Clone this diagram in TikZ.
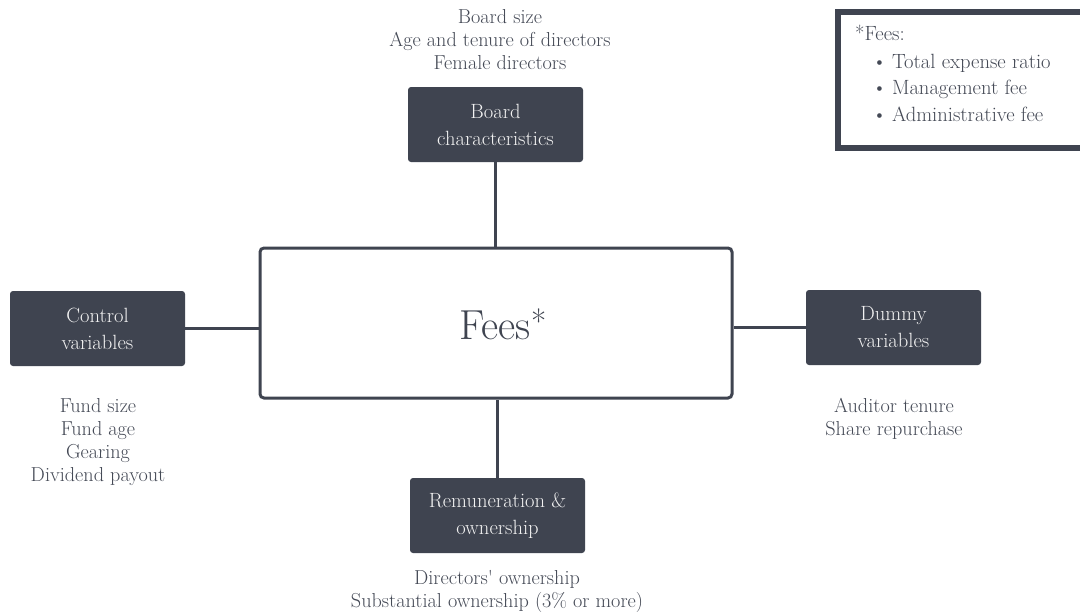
\documentclass[tikz,border=0pt]{standalone}
\usepackage{fontspec}
\definecolor{dark}{HTML}{3F4450}
\definecolor{desc}{HTML}{444955}
\definecolor{lighttext}{HTML}{F2F2F2}
\tikzset{
  catbox/.style={draw=none, fill=dark, rounded corners=3pt, minimum width=175pt, minimum height=75pt,
    text=lighttext, align=center, font=\fontsize{20.6}{27}\selectfont, inner sep=0pt},
  link/.style={draw=dark, line width=3pt},
  desctext/.style={text=desc, align=center, inner sep=0pt, anchor=north,
    font=\fontsize{20.2}{23.2}\selectfont},
  legtext/.style={text=desc, anchor=base west, inner sep=0pt, font=\fontsize{20.6}{26}\selectfont}
}
\begin{document}
\begin{tikzpicture}[x=1pt,y=-1pt]
\clip (0,0) rectangle (1080,614);
\fill[white] (0,0) rectangle (1080,614);
% central box
\node[draw=dark, line width=3pt, rounded corners=4pt, minimum width=472pt, minimum height=150pt, inner sep=0pt] (fees) at (496,323) {};
\node[text=dark, font=\fontsize{42}{44}\selectfont, inner sep=0pt, anchor=base] (feestxt) at (503,339) {Fees\raisebox{6pt}{\fontsize{33}{33}\selectfont *}};
% category boxes
\node[catbox] (board) at (495.5,124.5) {Board\\characteristics};
\node[catbox] (control) at (97.5,328.5) {Control\\variables};
\node[catbox] (dummy) at (893.5,327.5) {Dummy\\variables};
\node[catbox] (remu) at (497.5,515.5) {Remuneration \&\\ownership};
% connectors
\draw[link] (board.south) -- (board.south |- fees.north);
\draw[link] (control.east) -- (control.east -| fees.west);
\draw[link] (dummy.west) -- (dummy.west -| fees.east);
\draw[link] (remu.north) -- (remu.north |- fees.south);
% descriptions
\node[desctext] (boarddesc) at (500,9) {Board size\\Age and tenure of directors\\Female directors};
\node[desctext] (controldesc) at (98,398) {Fund size\\Fund age\\Gearing\\Dividend payout};
\node[desctext] (dummydesc) at (894,398) {Auditor tenure\\Share repurchase};
\node[desctext] (remudesc) at (497,570) {Directors\textquotesingle\ ownership\\Substantial ownership (3\% or more)};
% legend
\node[draw=dark, line width=6pt, minimum width=260pt, minimum height=136pt, anchor=north west, inner sep=0pt] (legend) at (835,9) {};
\node[legtext] (l0) at (855,40) {*Fees:};
\node[legtext] (l1) at (872,68) {\textbullet\hspace{5pt}Total expense ratio};
\node[legtext] (l2) at (872,94) {\textbullet\hspace{5pt}Management fee};
\node[legtext] (l3) at (872,121) {\textbullet\hspace{5pt}Administrative fee};
\end{tikzpicture}
\end{document}
